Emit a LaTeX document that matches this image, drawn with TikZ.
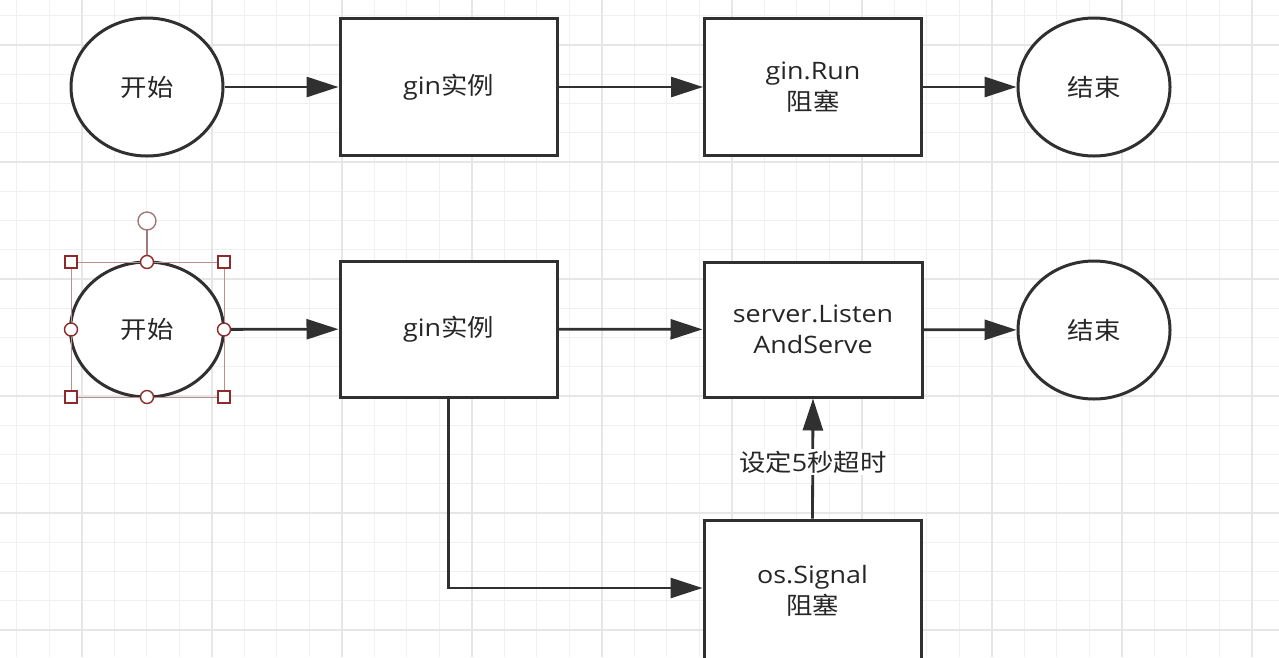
\documentclass[tikz,border=0pt]{standalone}
\usepackage{fontspec}
\setmainfont[FakeStretch=1.12]{Open Sans}
\newfontfamily\cjk[FakeStretch=1.1]{Noto Sans CJK SC}
\usetikzlibrary{arrows.meta,shapes.geometric}
\definecolor{linec}{HTML}{303030}
\definecolor{gridminor}{HTML}{F0F0F0}
\definecolor{gridmajor}{HTML}{E6E6E6}
\definecolor{selline}{HTML}{B89090}
\definecolor{handle}{HTML}{8E2A2A}
\definecolor{rothandle}{HTML}{A07A7A}
\tikzset{
  txt/.style={font=\fontsize{24}{31}\selectfont, text=black!85, align=center},
  startend/.style={ellipse, draw=linec, line width=3pt, fill=white, minimum width=152pt, minimum height=138pt, inner sep=0pt, txt},
  procbox/.style={rectangle, draw=linec, line width=3pt, fill=white, minimum width=217pt, minimum height=137pt, inner sep=0pt, txt},
  conn/.style={draw=linec, line width=2.8pt, -{Triangle[length=32pt,width=20pt]}},
  gridmin/.style={draw=gridminor, line width=1pt},
  gridmaj/.style={draw=gridmajor, line width=1.6pt},
  selbox/.style={draw=selline, line width=1pt},
  hsq/.style={draw=handle, fill=white, line width=1.4pt},
  lbl/.style={fill=white, inner sep=2pt, txt}
}
\begin{document}
\begin{tikzpicture}[x=1pt,y=-1pt]
\useasboundingbox (0,0) rectangle (1279,657);
\clip (0,0) rectangle (1279,657);
\fill[white] (0,0) rectangle (1279,657);
% grid
\foreach \i in {0,...,39} \draw[gridmin] ({16.7+32.5*\i},0) -- ++(0,657);
\foreach \j in {0,...,22} \draw[gridmin] (0,{15.5+29.25*\j}) -- ++(1279,0);
\foreach \i in {0,...,9} \draw[gridmaj] ({81.7+130*\i},0) -- ++(0,657);
\foreach \j in {0,...,5} \draw[gridmaj] (0,{44.7+117*\j}) -- ++(1279,0);

% top row
\node[startend] (s1) at (147,87) {\cjk 开始};
\node[procbox] (g1) at (448.5,87) {gin{\cjk 实例}};
\node[procbox] (r1) at (813,87) {gin.Run\\{\cjk 阻塞}};
\node[startend] (e1) at (1094,87) {\cjk 结束};
\draw[conn] (s1) -- (g1);
\draw[conn] (g1) -- (r1);
\draw[conn] (r1) -- (e1);

% bottom row
\node[startend, minimum width=153pt, minimum height=135pt] (s2) at (147,329.5) {\cjk 开始};
\node[procbox, minimum height=136pt] (g2) at (448.5,329) {gin{\cjk 实例}};
\node[procbox, minimum width=218pt, minimum height=135pt] (srv) at (813,329.5) {server.Listen\\AndServe};
\node[startend] (e2) at (1094,330) {\cjk 结束};
\node[procbox, minimum height=142pt] (sig) at (812.5,591) {os.Signal\\{\cjk 阻塞}};
\draw[conn] (s2) -- (g2);
\draw[conn] (g2) -- (srv);
\draw[conn] (srv) -- (e2);
\draw[conn] (g2.south) |- ([yshift=3pt]sig.west);
\draw[conn] (sig.north) -- (srv.south) node[lbl, pos=0.47] {{\cjk 设定}5{\cjk 秒超时}};

% selection handles on the lower start node
\draw[selbox] (71,262) rectangle (224,397);
\draw[draw=rothandle, line width=1.4pt] (147,230) -- (147,262);
\draw[draw=rothandle, fill=white, line width=1.4pt] (147,221) circle (9pt);
\foreach \p in {(71,262),(224,262),(71,397),(224,397)}
  \draw[hsq] \p +(-6,-6) rectangle +(6,6);
\foreach \p in {(147,262),(147,397),(71,329.5),(224,329.5)}
  \draw[hsq] \p circle (6.5pt);
\end{tikzpicture}
\end{document}
